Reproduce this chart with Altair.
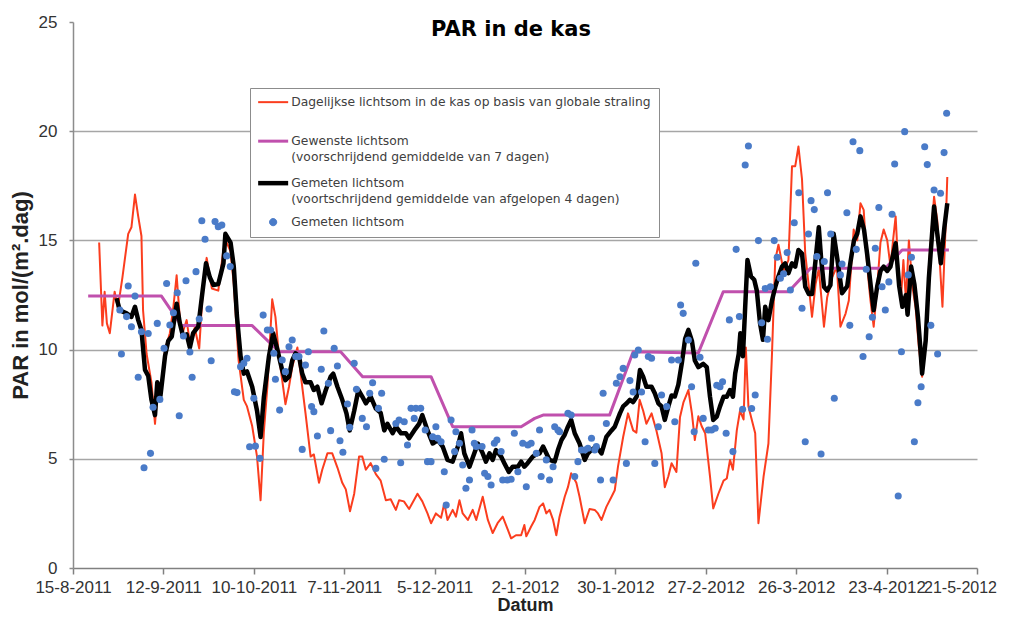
import altair as alt
import pandas as pd

# ---------------- data ----------------
START = "2011-08-15"
END = "2012-05-21"
tick_dates = ["2011-08-15", "2011-09-12", "2011-10-10", "2011-11-07", "2011-12-05",
              "2012-01-02", "2012-01-30", "2012-02-27", "2012-03-26", "2012-04-23",
              "2012-05-21"]
y_ticks = [0, 5, 10, 15, 20, 25]

series_names = [
    "Dagelijkse lichtsom in de kas op basis van globale straling| ",
    "Gewenste lichtsom|(voorschrijdend gemiddelde van 7 dagen)",
    "Gemeten lichtsom|(voortschrijdend gemiddelde van afgelopen 4 dagen)",
    "Gemeten lichtsom",
]
series_colors = ["#fb3d1e", "#c050ad", "#000000", "#4a7bc8"]

# days after 15-8-2011
red_days = [8.1, 9.1, 9.8, 10.5, 11.4, 12.9, 13.9, 15.3, 17.1, 18.1, 19.2, 20.2, 21.2, 21.7, 22.8,
            24.3, 25.4, 26.4, 27.4, 28.5, 30.0, 31.1, 32.1, 32.9, 33.6, 35.2, 36.2, 37.7, 39.1,
            40.4, 41.4, 43.0, 45.0, 46.6, 47.6, 48.8, 49.8, 51.3, 52.9, 53.9, 55.5, 57.0, 58.1,
            59.1, 60.2, 61.7, 62.7, 63.8, 64.8, 65.8, 66.9, 67.9, 69.5, 70.5, 72.0, 73.6, 74.6,
            76.2, 77.2, 78.8, 80.3, 81.9, 83.4, 84.5, 85.8, 87.1, 88.6, 89.6, 90.7, 92.2, 93.8,
            95.3, 96.9, 98.4, 100.0, 101.0, 102.5, 104.1, 106.7, 108.2, 109.8, 110.9, 112.4,
            114.0, 115.0, 116.0, 117.6, 118.6, 119.7, 120.7, 122.3, 123.8, 124.9, 126.9, 128.5,
            130.0, 131.5, 133.1, 134.7, 135.7, 137.2, 138.8, 139.8, 140.4, 141.9, 143.0, 144.5,
            145.6, 146.6, 147.6, 148.7, 149.7, 150.7, 152.3, 153.3, 154.3, 155.9, 156.9, 158.5,
            160.0, 161.6, 162.6, 163.7, 165.2, 166.8, 167.8, 168.8, 170.4, 171.9, 173.5, 174.5,
            175.5, 176.6, 177.6, 179.2, 180.7, 182.3, 183.3, 184.4, 185.4, 186.9, 188.0, 189.1,
            190.6, 191.7, 192.6, 193.7, 194.7, 195.8, 197.3, 198.3, 199.9, 201.5, 202.5, 203.5,
            204.4, 205.6, 206.6, 207.7, 208.4, 209.2, 211.3, 212.3, 213.9, 215.4, 216.5, 217.5,
            218.5, 220.1, 221.6, 222.7, 223.7, 224.7, 225.8, 226.8, 227.9, 228.9, 230.0, 231.0,
            232.6, 233.6, 235.1, 236.6, 237.7, 239.3, 240.3, 241.8, 242.9, 243.9, 244.9, 246.0,
            247.0, 248.0, 249.1, 250.1, 251.1, 252.2, 253.2, 254.0, 254.8, 255.9, 256.4, 257.2,
            258.0, 258.9, 260.0, 261.0, 262.0, 263.0, 264.1, 265.1, 266.7, 267.7, 269.3, 270.4,
            270.8]
red_vals = [14.9, 11.1, 12.65, 11.2, 10.75, 12.65, 11.9, 13.3, 15.3, 15.6, 17.1, 16.1, 15.2, 11.8,
            9.8, 8.5, 6.6, 8.5, 8.2, 10.0, 10.75, 11.96, 13.4, 11.8, 10.6, 11.35, 10.3, 11.0, 10.05,
            13.2, 14.2, 12.8, 12.7, 14.6, 14.9, 14.5, 13.0, 9.5, 7.7, 7.4, 6.5, 5.1, 3.1,
            6.2, 8.3, 12.3, 11.5, 9.7, 8.6, 7.5, 8.3, 9.2, 10.1, 8.9, 7.1, 5.1, 5.2,
            3.9, 4.5, 5.25, 5.25, 4.6, 3.9, 3.6, 2.6, 3.4, 5.1, 5.1, 4.5, 4.8, 4.3,
            4.0, 3.1, 3.15, 2.66, 3.1, 3.05, 2.7, 3.4, 3.05, 2.5, 2.05, 2.5,
            2.3, 2.96, 2.2, 2.66, 2.35, 3.1, 2.5, 2.2, 2.66, 2.2, 3.26, 2.2,
            1.6, 2.05, 2.35, 1.75, 1.36, 1.5, 1.5, 1.97, 1.45, 1.9, 2.2, 2.8,
            2.96, 2.5, 2.66, 2.2, 1.5, 2.35, 3.26, 3.7, 4.34, 3.9, 3.26, 2.05,
            2.7, 2.66, 2.5, 2.2, 2.8, 3.26, 3.56, 4.64, 6.0, 7.08, 6.3, 6.2,
            7.7, 7.2, 6.6, 7.08, 6.3, 5.25, 3.7, 4.2, 4.8, 4.4, 6.9, 7.6,
            8.15, 7.08, 5.86, 6.95, 6.5, 6.17, 4.2, 2.73, 3.4, 4.0, 4.1, 4.95,
            4.5, 6.3, 7.2, 6.8, 10.1, 7.4, 6.17, 2.05, 4.2, 5.7, 9.8, 14.1,
            14.8, 13.6, 14.1, 18.4, 18.4, 19.3, 17.8, 14.4, 12.9, 11.5, 13.0, 13.7,
            11.05, 12.4, 13.3, 13.8, 11.05, 11.65, 12.25, 15.5, 15.0, 16.7, 16.4, 13.8,
            12.25, 11.05, 12.9, 14.9, 15.5, 15.0, 13.8, 15.0, 16.1, 12.9, 12.25, 14.1,
            12.25, 15.0, 12.9, 11.9, 10.1, 8.76, 10.7, 13.8, 17.0, 15.9, 11.96, 16.1,
            17.9]

magenta_days = [4.7, 27.4, 33.6, 55.5, 63.8, 82.9, 89.7, 110.9, 117.6, 138.8, 143.0, 145.6,
                166.2, 173.5, 193.7, 201.4, 221.6, 228.4, 251.6, 256.8, 271.3]
magenta_vals = [12.45, 12.45, 11.1, 11.1, 9.9, 9.9, 8.76, 8.76, 6.47, 6.47, 6.85, 7.0,
                7.0, 9.9, 9.85, 12.65, 12.65, 13.72, 13.72, 14.56, 14.56]

black_days = [13.5, 14.5, 16.6, 18.1, 19.2, 20.2, 21.2, 22.3, 23.3, 24.3, 25.4, 26.1, 27.1, 28.5,
              29.5, 30.6, 32.1, 33.1, 34.1, 35.2, 36.2, 37.2, 38.8, 39.9, 41.2, 42.4, 43.5, 45.0,
              46.6, 47.2, 48.8, 49.8, 50.8, 51.9, 52.9, 53.9, 55.5, 57.0, 58.1, 59.1, 60.7, 62.0,
              63.3, 64.8, 65.8, 66.9, 67.9, 68.9, 70.0, 71.0, 72.0, 73.6, 74.6, 75.7, 77.0, 78.3,
              79.8, 80.6, 81.9, 83.4, 84.7, 85.7, 87.1, 88.4, 89.6, 90.7, 92.2, 93.8, 95.3, 96.4,
              97.4, 99.0, 100.0, 101.6, 103.1, 104.1, 105.7, 107.2, 108.2, 109.8, 111.4, 113.0,
              114.5, 116.0, 117.6, 119.2, 120.2, 121.2, 122.8, 124.3, 125.4, 126.9, 127.9, 129.0,
              130.0, 131.0, 132.6, 133.6, 135.0, 136.2, 137.8, 138.8, 139.8, 140.8, 142.4, 143.5,
              144.5, 145.6, 146.6, 147.6, 149.2, 150.2, 151.3, 152.3, 153.3, 154.3, 155.4, 156.9,
              158.5, 159.5, 160.5, 162.1, 163.7, 165.2, 166.8, 167.8, 169.4, 170.4, 171.5, 172.5,
              173.5, 174.6, 175.6, 176.6, 177.6, 179.2, 180.2, 181.3, 182.3, 183.3, 184.4, 185.4,
              186.4, 187.5, 188.6, 189.6, 190.6, 191.7, 192.6, 193.7, 195.2, 196.3, 197.3, 198.3,
              199.4, 200.4, 201.5, 202.5, 203.5, 204.4, 205.1, 206.2, 206.7, 207.5, 208.2, 208.9,
              210.0, 211.0, 211.8, 212.8, 213.7, 214.4, 215.4, 216.5, 217.5, 218.5, 219.6, 220.6,
              221.6, 222.7, 223.7, 224.7, 225.8, 226.8, 227.9, 228.9, 230.0, 231.0, 231.7, 232.6,
              233.6, 234.6, 235.6, 236.6, 238.2, 239.8, 240.8, 241.9, 242.9, 243.9, 245.0, 246.0,
              247.1, 248.0, 249.1, 250.1, 251.1, 252.2, 253.2, 254.8, 255.9, 256.9, 258.0, 258.5,
              259.6, 260.6, 261.7, 262.5, 263.0, 264.1, 265.1, 266.7, 267.7, 268.8, 269.9, 270.8]
black_vals = [12.35, 11.8, 11.66, 11.5, 11.96, 11.35, 10.9, 9.07, 8.8, 7.7, 7.0, 8.5, 7.9, 9.7,
              10.4, 10.6, 12.1, 11.2, 10.6, 10.7, 10.1, 10.75, 11.05, 12.4, 13.95, 13.3, 12.96, 13.0,
              13.95, 15.3, 14.9, 13.8, 11.5, 9.7, 8.9, 9.0, 8.3, 7.2, 6.0, 7.8, 9.7, 10.75,
              10.0, 9.05, 8.6, 8.76, 9.5, 9.83, 9.7, 8.9, 8.5, 8.5, 8.15, 8.3, 7.54, 8.15,
              8.76, 8.9, 8.3, 7.7, 7.08, 6.3, 7.2, 8.15, 7.85, 7.54, 7.85, 7.3, 7.1, 6.3,
              6.6, 6.17, 6.47, 6.17, 6.17, 5.94, 6.3, 6.6, 7.0, 6.3, 5.7, 5.86,
              5.56, 4.95, 4.87, 5.56, 6.17, 5.25, 4.64, 5.25, 5.7, 5.25, 4.87, 5.25,
              4.95, 5.4, 5.1, 4.8, 4.4, 4.64, 4.64, 4.87, 4.64, 4.8, 5.1, 5.2,
              5.25, 5.56, 5.25, 4.95, 4.87, 5.4, 5.86, 6.1, 6.47, 6.78, 6.17, 5.7,
              4.95, 5.25, 5.4, 5.56, 5.25, 6.0, 6.3, 6.47, 7.08, 7.4, 7.54, 7.7,
              7.6, 7.85, 9.07, 8.76, 8.3, 8.3, 8.0, 7.54, 7.4, 6.78, 7.4, 7.9,
              7.85, 8.4, 9.4, 10.5, 10.9, 10.4, 9.5, 9.2, 9.35, 9.2, 7.84, 6.78,
              6.93, 7.4, 7.84, 7.84, 8.15, 7.84, 8.9, 9.8, 10.75, 9.7, 11.96, 14.1,
              13.35, 13.2, 12.7, 11.2, 10.45, 11.96, 11.35, 12.25, 12.86, 13.35, 13.8, 13.95,
              13.5, 13.95, 13.8, 14.56, 14.4, 12.88, 12.55, 12.55, 14.1, 15.6, 14.2, 12.88,
              12.7, 12.95, 15.3, 14.3, 12.58, 12.9, 14.0, 15.0, 15.3, 16.1, 15.5, 14.35,
              12.9, 11.8, 12.9, 13.6, 13.8, 13.6, 13.8, 14.87, 12.9, 11.96, 12.5, 11.6,
              13.8, 13.0, 11.5, 9.98, 8.9, 10.4, 13.3, 16.55, 15.3, 13.95, 15.6, 16.7]

dot_days = [14.5, 15.0, 16.6, 17.1, 18.1, 19.2, 20.2, 21.2, 22.0, 23.3, 24.0, 24.8, 26.1, 26.9,
            28.2, 29.0, 30.0, 31.1, 32.3, 32.9, 34.2, 35.0, 36.2, 36.9, 38.1, 39.1, 39.9, 40.9,
            42.1, 42.8, 44.0, 45.0, 46.1, 47.6, 48.7, 50.0, 50.8, 51.9, 52.9, 53.9, 54.7, 56.0,
            56.5, 57.9, 58.9, 60.2, 61.2, 62.2, 62.7, 64.0, 64.8, 65.8, 66.9, 67.9, 69.0, 70.0,
            71.0, 72.0, 72.9, 73.9, 74.6, 75.7, 76.9, 77.7, 79.1, 79.8, 80.9, 81.9, 82.7, 83.6,
            85.0, 85.7, 87.1, 87.8, 89.6, 90.9, 91.9, 92.8, 93.8, 94.6, 95.6, 96.4, 100.0, 101.0,
            101.5, 102.6, 103.6, 104.7, 105.7, 106.2, 107.7, 109.1, 109.8, 110.9, 111.4, 112.4,
            113.0, 114.0, 115.0, 115.6, 117.1, 118.2, 118.6, 119.7, 120.7, 121.7, 122.8, 123.6,
            124.3, 124.9, 126.7, 127.5, 128.5, 129.5, 130.5, 131.3, 132.6, 133.1, 134.5, 135.7,
            136.7, 137.8, 139.3, 140.4, 140.9, 141.9, 143.5, 144.5, 145.0, 146.6, 147.6, 148.7,
            149.2, 150.2, 150.7, 153.3, 154.3, 155.4, 156.4, 157.5, 158.5, 159.5, 160.6, 161.6,
            162.1, 163.4, 164.2, 165.2, 167.3, 168.3, 169.4, 170.4, 171.4, 172.5, 173.5, 174.0,
            175.1, 176.1, 177.2, 178.2, 179.2, 180.2, 181.3, 182.3, 183.9, 185.4, 186.4, 187.5,
            188.2, 189.0, 190.6, 191.6, 192.4, 192.9, 194.2, 195.2, 196.8, 197.8, 198.9, 199.4,
            200.4, 201.2, 202.3, 203.3, 204.4, 205.4, 206.4, 207.4, 208.2, 209.2, 210.2, 211.3,
            212.3, 213.3, 214.4, 215.1, 216.0, 217.2, 218.1, 219.1, 220.1, 221.2, 222.2, 223.4,
            224.8, 225.8, 226.8, 227.8, 228.6, 229.6, 230.4, 231.7, 232.7, 233.7, 234.7, 235.8,
            237.7, 238.2, 239.7, 240.6, 241.6, 242.6, 243.7, 244.7, 245.7, 246.6, 247.6, 248.5,
            249.6, 250.6, 251.6, 252.7, 253.7, 254.5, 255.6, 256.6, 257.6, 258.7, 259.7, 260.6,
            261.7, 262.7, 263.8, 264.6, 265.7, 266.7, 267.8, 268.7, 269.8, 270.6]
dot_vals = [11.81, 9.8, 11.51, 12.91, 11.05, 12.45, 8.73, 10.82, 4.59, 10.74, 5.25, 7.36, 11.2, 7.72,
            10.06, 13.03, 11.13, 11.69, 12.6, 6.97, 10.62, 13.15, 9.89, 8.73, 13.57, 11.4, 15.9, 15.05,
            11.86, 9.49, 15.86, 15.63, 15.7, 14.29, 13.8, 8.07, 8.03, 9.22, 9.37, 9.6, 5.55, 7.77,
            5.58, 5.02, 11.58, 10.9, 10.9, 9.83, 8.64, 7.23, 9.52, 8.99, 10.13, 10.44, 9.68, 9.68,
            5.43, 9.29, 9.9, 7.39, 7.16, 6.04, 9.1, 10.85, 8.46, 6.29, 10.06, 9.25, 5.83, 5.3,
            7.51, 6.44, 9.37, 8.18, 6.85, 6.47, 8.0, 8.48, 4.56, 7.31, 8.0, 4.98, 6.62, 6.78,
            4.82, 6.7, 5.63, 7.31, 6.85, 7.31, 7.31, 6.32, 4.87, 4.87, 6.01, 6.47,
            5.94, 5.78, 4.41, 2.88, 6.78, 5.33, 6.24, 5.71, 4.72, 3.65, 4.03, 6.32,
            5.71, 5.56, 5.56, 4.34, 4.19, 3.8, 5.71, 5.86, 5.33, 4.03, 4.03, 4.06,
            6.17, 4.41, 5.71, 3.72, 5.63, 5.71, 5.25, 6.32, 4.19, 4.95, 4.03, 4.64,
            6.47, 6.32, 6.24, 7.08, 7.0, 4.19, 4.87, 5.4, 5.4, 5.48, 5.94, 5.4,
            5.56, 4.03, 8.0, 6.62, 4.03, 8.46, 8.76, 9.14, 4.79, 8.58, 8.06, 9.75,
            9.98, 8.06, 5.78, 9.68, 9.6, 4.79, 6.47, 7.92, 7.39, 9.52, 6.7, 9.52,
            12.04, 11.66, 10.44, 8.3, 6.24, 13.95, 9.65, 6.85, 6.32, 6.32, 6.4, 8.37,
            8.3, 8.53, 6.17, 11.36, 5.33, 14.59, 11.51, 7.27, 18.45, 19.32, 7.3, 7.92,
            14.99, 11.23, 12.8, 10.47, 12.88, 14.99, 14.23, 13.27, 13.47, 14.44, 12.73, 15.81,
            17.18, 11.89, 5.78, 15.29, 16.82, 16.41, 14.26, 5.22, 14.03, 17.18, 15.29, 7.77,
            13.42, 13.92, 16.27, 11.11, 19.52, 14.59, 19.11, 9.68, 13.68, 10.59, 11.48, 14.64,
            16.51, 12.88, 11.81, 13.1, 16.2, 18.5, 3.3, 9.9, 19.98, 13.42, 14.23, 5.78,
            7.57, 8.3, 19.29, 18.47, 11.11, 17.31, 9.8, 17.16, 19.02, 20.82]

# ---------------- build tables ----------------
t0 = pd.Timestamp(START)


def to_ms(days):
    return [int((t0 + pd.Timedelta(days=float(d))).value // 10**6) for d in days]


def date_ms(s):
    return int(pd.Timestamp(s).value // 10**6)


def line_df(days, vals, name):
    return pd.DataFrame({"t": to_ms(days), "v": vals, "series": name})


red_df = line_df(red_days, red_vals, series_names[0])
mag_df = line_df(magenta_days, magenta_vals, series_names[1])
blk_df = line_df(black_days, black_vals, series_names[2])
dot_df = pd.DataFrame({"t": to_ms(dot_days), "v": dot_vals})

LABEL_FONT = "Liberation Sans"
last_tick = date_ms(tick_dates[-1])
is_last = f"time(datum.value) >= {last_tick - 3600000}"

x_enc = alt.X(
    "t:T",
    scale=alt.Scale(type="utc", domain=[date_ms(START), date_ms(END)]),
    axis=alt.Axis(
        values=[date_ms(d) for d in tick_dates],
        labelExpr="utcFormat(datum.value, '%-d-%-m-%Y')",
        labelOverlap=False, labelFlush=False, labelBound=False,
        labelOffset={"condition": {"test": is_last, "value": -17}, "value": 0},
        labelFontSize={"condition": {"test": is_last, "value": 16}, "value": 17},
        grid=False, domainColor="#808080", domainWidth=1.5,
        tickColor="#808080", tickWidth=1.5, tickSize=6, labelPadding=5,
        labelFont=LABEL_FONT, labelColor="#333333",
        title="Datum", titleFont=LABEL_FONT, titleFontSize=18, titleFontWeight="bold",
        titleColor="#222222", titlePadding=1,
    ),
)
y_enc = alt.Y(
    "v:Q",
    scale=alt.Scale(domain=[0, 25], nice=False),
    axis=alt.Axis(
        values=y_ticks,
        grid=True,
        gridColor={"condition": {"test": "datum.value === 25 || datum.value === 0",
                                 "value": "transparent"}, "value": "#a6a6a6"},
        gridWidth=1.5,
        domainColor="#8c8c8c", domainWidth=1.5,
        tickColor="#8c8c8c", tickWidth=1.5, tickSize=4, labelPadding=12,
        labelFont=LABEL_FONT, labelFontSize=17, labelColor="#333333",
        title="PAR in mol/(m².dag)", titleFont=LABEL_FONT, titleFontSize=22,
        titleFontWeight="bold", titleColor="#222222", titlePadding=6,
    ),
)

legend = alt.Legend(
    title=None,
    orient="none", legendX=177, legendY=66, direction="vertical",
    fillColor="white", strokeColor="#8c8c8c", padding=8,
    rowPadding=10, symbolOffset=9, labelOffset=12,
    labelFont="DejaVu Sans", labelFontSize=12.3, labelColor="#404040",
    labelLimit=800, labelBaseline="middle",
    labelExpr="split(datum.label, '|')",
    symbolType={"expr": "datum.index === 3 ? 'M-0.24,0A0.24,0.24,0,1,0,0.24,0A0.24,0.24,0,1,0,-0.24,0Z' : 'stroke'"},
    symbolSize=900,
    symbolStrokeWidth={"expr": "datum.index === 3 ? 1 : datum.index === 2 ? 4.5 : datum.index === 1 ? 3 : 2"},
    symbolFillColor={"expr": "datum.index === 3 ? '#4a7bc8' : 'transparent'"},
)
color_enc = alt.Color("series:N", scale=alt.Scale(domain=series_names, range=series_colors),
                      legend=legend)

red = alt.Chart(red_df).mark_line(strokeWidth=2, strokeJoin="round").encode(
    x=x_enc, y=y_enc, color=color_enc)
mag = alt.Chart(mag_df).mark_line(strokeWidth=3, strokeJoin="round").encode(
    x=x_enc, y=y_enc, color=color_enc)
blk = alt.Chart(blk_df).mark_line(strokeWidth=4.5, strokeJoin="round").encode(
    x=x_enc, y=y_enc, color=color_enc)
dots = alt.Chart(dot_df).mark_circle(size=50, opacity=1, color="#4a7bc8").encode(
    x=x_enc, y=y_enc)

chart = alt.layer(red, mag, blk, dots).properties(
    width=904, height=546,
    title=alt.TitleParams("PAR in de kas", font="DejaVu Sans", fontSize=21, fontWeight="bold",
                          color="#000000", anchor="middle", offset=-27, dx=-14),
    autosize=alt.AutoSizeParams(type="none"),
    padding={"left": 65, "top": 14, "right": 26, "bottom": 45},
).configure(
    background="white",
    style={"guide-label": {"lineHeight": 16}},
).configure_view(stroke=None)

chart.save("out.html", embed_options={"renderer": "svg", "actions": False})
